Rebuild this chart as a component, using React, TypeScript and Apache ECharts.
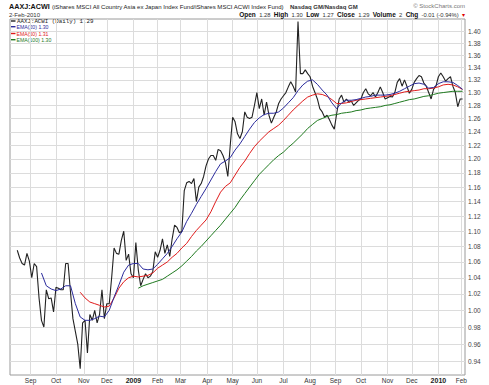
import React, { useEffect, useRef } from 'react';
import * as echarts from 'echarts';

// ---- calendar (US market holidays inside the charted range) ----
const HOLIDAYS = [
  '2008-09-01', '2008-11-27', '2008-12-25', '2009-01-01', '2009-01-19', '2009-02-16',
  '2009-04-10', '2009-05-25', '2009-07-03', '2009-09-07', '2009-11-26', '2009-12-25',
  '2010-01-01', '2010-01-18',
];
const AXIS_FIRST_DAY = '2008-08-07';
const AXIS_LAST_DAY = '2010-02-04';
const MONTHS = ['Jan', 'Feb', 'Mar', 'Apr', 'May', 'Jun', 'Jul', 'Aug', 'Sep', 'Oct', 'Nov', 'Dec'];

// ---- price axis (log scale) ----
const Y_TICKS = [0.94, 0.96, 0.98, 1.0, 1.02, 1.04, 1.06, 1.08, 1.1, 1.12, 1.14, 1.16, 1.18, 1.2,
  1.22, 1.24, 1.26, 1.28, 1.3, 1.32, 1.34, 1.36, 1.38, 1.4];
const Y_MIN = 0.925;
const Y_MAX = 1.4205;

// ---- AAXJ:ACWI daily close, read every 2nd trading day from 2008-08-15 ----
const PRICE_FIRST = '2008-08-15';
const PRICE_STEP = 2;
const PRICE = [
  1.075, 1.065, 1.058, 1.056, 1.071, 1.061, 1.040, 1.058, 1.054, 1.015,
  0.988, 0.980, 1.025, 1.014, 1.015, 0.998, 1.028, 1.027, 1.025, 1.025,
  1.058, 1.058, 1.022, 0.990, 0.975, 0.960, 0.932, 0.985, 0.988, 0.950,
  0.995, 0.988, 1.000, 0.985, 0.995, 1.025, 0.990, 1.008, 1.008, 1.040,
  1.078, 1.071, 1.070, 1.088, 1.100, 1.062, 1.070, 1.045, 1.040, 1.085,
  1.050, 1.030, 1.038, 1.045, 1.040, 1.042, 1.048, 1.073, 1.066, 1.075,
  1.090, 1.071, 1.082, 1.067, 1.090, 1.108, 1.105, 1.098, 1.100, 1.155,
  1.166, 1.168, 1.165, 1.172, 1.140, 1.160, 1.165, 1.175, 1.190, 1.200,
  1.205, 1.205, 1.198, 1.214, 1.212, 1.205, 1.195, 1.175, 1.220, 1.262,
  1.255, 1.237, 1.230, 1.240, 1.270, 1.262, 1.260, 1.262, 1.280, 1.300,
  1.275, 1.290, 1.265, 1.285, 1.265, 1.253, 1.262, 1.270, 1.283, 1.290,
  1.295, 1.300, 1.309, 1.317, 1.310, 1.301, 1.416, 1.330, 1.330, 1.336,
  1.330, 1.325, 1.310, 1.300, 1.290, 1.275, 1.270, 1.262, 1.265, 1.258,
  1.250, 1.244, 1.268, 1.290, 1.296, 1.285, 1.290, 1.285, 1.287, 1.280,
  1.284, 1.288, 1.290, 1.300, 1.306, 1.298, 1.295, 1.300, 1.293, 1.300,
  1.309, 1.300, 1.290, 1.292, 1.294, 1.293, 1.300, 1.316, 1.322, 1.310,
  1.320, 1.310, 1.299, 1.305, 1.316, 1.322, 1.327, 1.325, 1.315, 1.310,
  1.300, 1.290, 1.305, 1.310, 1.325, 1.331, 1.325, 1.318, 1.322, 1.325,
  1.310, 1.300, 1.278, 1.290, 1.290,
];

// ---- EMA overlays, read every 4th trading day ----
const EMA_STEP = 4;
const EMA20_FIRST = '2008-09-15';
const EMA20 = [
  1.046, 1.030, 1.026, 1.024, 1.026, 1.030, 1.030, 1.008, 0.992, 0.988,
  0.988, 0.990, 0.993, 0.992, 1.000, 1.016, 1.031, 1.047, 1.056, 1.058,
  1.058, 1.051, 1.050, 1.051, 1.057, 1.064, 1.071, 1.080, 1.090, 1.099,
  1.113, 1.124, 1.136, 1.147, 1.158, 1.170, 1.182, 1.193, 1.197, 1.202,
  1.213, 1.222, 1.233, 1.244, 1.254, 1.261, 1.266, 1.268, 1.268, 1.270,
  1.276, 1.284, 1.292, 1.303, 1.312, 1.318, 1.320, 1.313, 1.304, 1.296,
  1.284, 1.275, 1.284, 1.288, 1.288, 1.289, 1.291, 1.293, 1.294, 1.296,
  1.296, 1.296, 1.297, 1.299, 1.302, 1.306, 1.310, 1.314, 1.315, 1.313,
  1.307, 1.308, 1.314, 1.317, 1.317, 1.316, 1.311, 1.305,
];
const EMA50_FIRST = '2008-10-29';
const EMA50 = [
  1.022, 1.015, 1.010, 1.008, 1.006, 1.004, 1.005, 1.015, 1.027, 1.035,
  1.040, 1.042, 1.041, 1.042, 1.043, 1.046, 1.052, 1.056, 1.060, 1.066,
  1.071, 1.078, 1.084, 1.093, 1.101, 1.108, 1.115, 1.126, 1.140, 1.153,
  1.161, 1.166, 1.177, 1.188, 1.197, 1.208, 1.218, 1.226, 1.233, 1.240,
  1.245, 1.250, 1.257, 1.265, 1.273, 1.280, 1.287, 1.293, 1.296, 1.298,
  1.297, 1.294, 1.289, 1.283, 1.283, 1.284, 1.286, 1.288, 1.289, 1.290,
  1.291, 1.292, 1.293, 1.294, 1.295, 1.297, 1.299, 1.301, 1.302, 1.303,
  1.304, 1.306, 1.306, 1.307, 1.309, 1.312, 1.313, 1.312, 1.309, 1.305,
];
const EMA100_FIRST = '2009-01-08';
const EMA100 = [
  1.027, 1.030, 1.032, 1.034, 1.036, 1.038, 1.042, 1.046, 1.050, 1.055,
  1.061, 1.067, 1.074, 1.080, 1.087, 1.094, 1.101, 1.108, 1.116, 1.124,
  1.132, 1.142, 1.151, 1.160, 1.169, 1.178, 1.185, 1.192, 1.199, 1.205,
  1.210, 1.217, 1.223, 1.230, 1.237, 1.245, 1.251, 1.257, 1.260, 1.263,
  1.265, 1.266, 1.268, 1.269, 1.270, 1.272, 1.273, 1.275, 1.276, 1.277,
  1.278, 1.280, 1.281, 1.283, 1.285, 1.287, 1.289, 1.290, 1.292, 1.294,
  1.295, 1.297, 1.299, 1.300, 1.301, 1.302, 1.302, 1.302,
];

const COLOR_PRICE = '#222222';
const COLOR_EMA20 = '#2b2b9c';
const COLOR_EMA50 = '#e01b1b';
const COLOR_EMA100 = '#1f7a1f';
const SANS = '"Liberation Sans", Arial, sans-serif';

function tradingDays(): string[] {
  const out: string[] = [];
  const d = new Date(AXIS_FIRST_DAY + 'T00:00:00Z');
  const end = new Date(AXIS_LAST_DAY + 'T00:00:00Z');
  while (d.getTime() <= end.getTime()) {
    const wd = d.getUTCDay();
    const s = d.toISOString().slice(0, 10);
    if (wd !== 0 && wd !== 6 && HOLIDAYS.indexOf(s) < 0) out.push(s);
    d.setUTCDate(d.getUTCDate() + 1);
  }
  return out;
}

function sampled(days: string[], first: string, step: number, values: number[]) {
  const i0 = days.indexOf(first);
  return values.map((v, k) => [i0 + k * step, Math.log(v)]);
}

export default function App() {
  const ref = useRef<HTMLDivElement>(null);

  useEffect(() => {
    if (!ref.current) return;
    const chart = echarts.init(ref.current, null, { renderer: 'svg' });
    const days = tradingDays();
    const monthStart = days.map((d, i) => i > 0 && d.slice(0, 7) !== days[i - 1].slice(0, 7));
    const isMonth = (i: number) => !!monthStart[i];
    const logTicks = Y_TICKS.map((t) => Math.log(t));

    const line = (name: string, data: any[], color: string, z: number, width: number) => ({
      name,
      type: 'line',
      data,
      symbol: 'none',
      showSymbol: false,
      silent: true,
      z,
      lineStyle: { color, width },
    });

    chart.setOption({
      animation: false,
      backgroundColor: '#ffffff',
      grid: {
        left: 10, right: 24, top: 19, bottom: 10,
        show: true, borderColor: '#9a9a9a', borderWidth: 1, backgroundColor: '#ffffff',
      },
      xAxis: {
        type: 'category',
        data: days,
        boundaryGap: false,
        axisLine: { show: false },
        axisTick: { show: false, interval: isMonth },
        axisLabel: {
          interval: isMonth,
          margin: 2,
          fontSize: 6.5,
          fontFamily: SANS,
          color: '#333',
          formatter: (v: string) => {
            const m = parseInt(v.slice(5, 7), 10) - 1;
            return m === 0 ? '{y|' + v.slice(0, 4) + '}' : MONTHS[m];
          },
          rich: { y: { fontWeight: 'bold', fontSize: 7, fontFamily: SANS, color: '#222' } },
        },
        splitLine: { show: true, interval: isMonth, lineStyle: { color: '#dcdcdc', width: 1 } },
      },
      yAxis: {
        type: 'value',
        position: 'right',
        min: Math.log(Y_MIN),
        max: Math.log(Y_MAX),
        axisLine: { show: false },
        axisTick: { show: false, customValues: logTicks },
        axisLabel: {
          customValues: logTicks,
          formatter: (v: number) => Math.exp(v).toFixed(2),
          fontSize: 6.5,
          fontFamily: SANS,
          color: '#444',
          margin: 3,
        },
        splitLine: { show: true, lineStyle: { color: '#dcdcdc', width: 1 } },
      },
      series: [
        line('AAXJ:ACWI', sampled(days, PRICE_FIRST, PRICE_STEP, PRICE), COLOR_PRICE, 2, 1.1),
        line('EMA(100)', sampled(days, EMA100_FIRST, EMA_STEP, EMA100), COLOR_EMA100, 3, 1),
        line('EMA(50)', sampled(days, EMA50_FIRST, EMA_STEP, EMA50), COLOR_EMA50, 4, 1),
        line('EMA(20)', sampled(days, EMA20_FIRST, EMA_STEP, EMA20), COLOR_EMA20, 5, 1),
      ],
      graphic: [
        { type: 'text', x: 9, y: 6, style: { text: 'AAXJ:ACWI', font: 'bold 7.2px ' + SANS, fill: '#111', verticalAlign: 'middle' } },
        { type: 'text', x: 52, y: 6.5, style: { text: '(iShares MSCI All Country Asia ex Japan Index Fund/iShares MSCI ACWI Index Fund)', font: '6.05px ' + SANS, fill: '#222', verticalAlign: 'middle' } },
        { type: 'text', x: 290, y: 6.5, style: { text: 'Nasdaq GM/Nasdaq GM', font: 'bold 6px ' + SANS, fill: '#333', verticalAlign: 'middle' } },
        { type: 'text', x: 465, y: 6, style: { text: '© StockCharts.com', font: '6px ' + SANS, fill: '#777', align: 'right', verticalAlign: 'middle' } },
        { type: 'text', x: 9, y: 14.5, style: { text: '2-Feb-2010', font: '6px ' + SANS, fill: '#333', verticalAlign: 'middle' } },
        {
          type: 'text', x: 465, y: 14.5,
          style: {
            text: '{b|Open} {n|1.28} {b|High} {n|1.30} {b|Low} {n|1.27} {b|Close} {n|1.29} {b|Volume} {n|2} {b|Chg} {n|-0.01 (-0.94%)} {r|▾}',
            align: 'right', verticalAlign: 'middle',
            rich: {
              b: { font: 'bold 6.5px ' + SANS, fill: '#111' },
              n: { font: '5.8px ' + SANS, fill: '#333' },
              r: { font: '6px ' + SANS, fill: '#d00' },
            },
          },
        },
        { type: 'rect', shape: { x: 11, y: 20.3, width: 4.5, height: 1.4 }, style: { fill: COLOR_PRICE } },
        { type: 'text', x: 17, y: 21, style: { text: 'AAXJ:ACWI (Daily) 1.29', font: '5.8px "Liberation Mono", monospace', fill: '#222', verticalAlign: 'middle' } },
        { type: 'rect', shape: { x: 11, y: 26, width: 4.5, height: 1.4 }, style: { fill: COLOR_EMA20 } },
        { type: 'text', x: 16.5, y: 26.7, style: { text: 'EMA(20) 1.30', font: '5.2px ' + SANS, fill: COLOR_EMA20, verticalAlign: 'middle' } },
        { type: 'rect', shape: { x: 11, y: 32.8, width: 4.5, height: 1.4 }, style: { fill: COLOR_EMA50 } },
        { type: 'text', x: 16.5, y: 33.5, style: { text: 'EMA(50) 1.31', font: '5.2px ' + SANS, fill: COLOR_EMA50, verticalAlign: 'middle' } },
        { type: 'rect', shape: { x: 11, y: 39, width: 4.5, height: 1.4 }, style: { fill: COLOR_EMA100 } },
        { type: 'text', x: 16.5, y: 39.7, style: { text: 'EMA(100) 1.30', font: '5.2px ' + SANS, fill: COLOR_EMA100, verticalAlign: 'middle' } },
      ],
    });

    return () => chart.dispose();
  }, []);

  return (
    <div
      ref={ref}
      style={{ position: 'absolute', left: 0, top: 0, width: 489, height: 385, background: '#fff' }}
    />
  );
}
